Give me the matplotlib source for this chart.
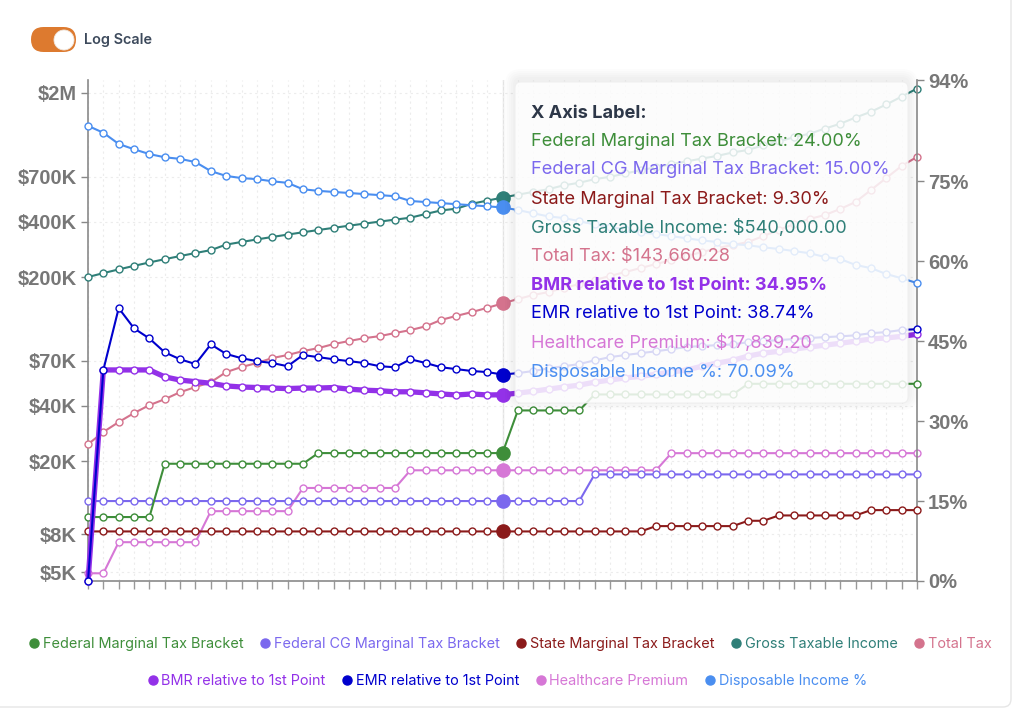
import matplotlib
matplotlib.use('Agg')
import matplotlib.pyplot as plt
from matplotlib.patches import FancyBboxPatch, Circle
from matplotlib.lines import Line2D
from matplotlib.ticker import FuncFormatter

plt.rcParams['font.family'] = ['Inter', 'DejaVu Sans']

# ---- data ----
fed_marginal = [12, 12, 12, 12, 12, 22, 22, 22, 22, 22, 22, 22, 22, 22, 22,
                24, 24, 24, 24, 24, 24, 24, 24, 24, 24, 24, 24, 24,
                32, 32, 32, 32, 32, 35, 35, 35, 35, 35, 35, 35, 35, 35, 35,
                37, 37, 37, 37, 37, 37, 37, 37, 37, 37, 37, 37]
fed_cg = [15, 15, 15, 15, 15, 15, 15, 15, 15, 15, 15, 15, 15, 15, 15, 15, 15,
          15, 15, 15, 15, 15, 15, 15, 15, 15, 15, 15, 15, 15, 15, 15, 15,
          20, 20, 20, 20, 20, 20, 20, 20, 20, 20, 20, 20, 20, 20, 20, 20, 20,
          20, 20, 20, 20, 20]
state_marginal = [9.3, 9.3, 9.3, 9.3, 9.3, 9.3, 9.3, 9.3, 9.3, 9.3, 9.3, 9.3,
                  9.3, 9.3, 9.3, 9.3, 9.3, 9.3, 9.3, 9.3, 9.3, 9.3, 9.3, 9.3,
                  9.3, 9.3, 9.3, 9.3, 9.3, 9.3, 9.3, 9.3, 9.3, 9.3, 9.3, 9.3,
                  9.3, 10.3, 10.3, 10.3, 10.3, 10.3, 10.3, 11.3, 11.3,
                  12.3, 12.3, 12.3, 12.3, 12.3, 12.3, 13.3, 13.3, 13.3, 13.3]
gross_income = [200000, 210000, 220000, 230000, 240000, 250000, 260000, 270000,
                280000, 300000, 310000, 320000, 330000, 340000, 350000, 360000,
                370000, 380000, 390000, 400000, 410000, 420000, 440000, 460000,
                470000, 500000, 520000, 540000, 560000, 580000, 600000, 630000,
                650000, 680000, 700000, 730000, 760000, 790000, 820000, 850000,
                880000, 910000, 950000, 980000, 1040000, 1090000, 1150000,
                1200000, 1280000, 1360000, 1470000, 1580000, 1730000, 1910000,
                2110000]
total_tax = [24700, 28800, 32600, 36500, 40300, 43400, 47400, 50500, 53700,
             60900, 64900, 68200, 72600, 75400, 79200, 82200, 86500, 89800,
             93100, 95500, 99300, 103000, 108000, 117000, 123000, 129000,
             136000, 143660.28, 151900, 159700, 165800, 174300, 183200,
             192600, 202500, 212900, 223800, 235300, 247400, 260100, 273500,
             287500, 298500, 309900, 334100, 360100, 388200, 413200, 434500,
             468400, 511300, 593900, 690200, 802400, 898000]
bmr = [0, 39.6, 39.6, 39.6, 39.6, 38.3, 37.7, 37.4, 37.1, 36.6, 36.4, 36.3,
       36.2, 36.1, 36.2, 36.2, 36.3, 36.0, 35.8, 35.7, 35.5, 35.5, 35.3, 35.1,
       34.9, 35.1, 34.9, 34.95, 35.25, 35.6, 36.0, 36.4, 36.75, 37.3, 37.7,
       38.1, 38.4, 38.8, 39.2, 39.6, 40.3, 40.9, 41.4, 42.2, 42.75, 43.1, 43.5,
       43.9, 44.25, 44.6, 45.0, 45.4, 45.6, 45.9, 46.3]
emr = [0, 39.6, 51.2, 47.4, 45.5, 42.9, 41.6, 40.7, 44.4, 42.6, 41.8, 41.25,
       40.9, 40.3, 42.4, 42.0, 41.6, 41.25, 40.9, 40.3, 40.1, 41.6, 40.9, 40.1,
       39.75, 39.4, 39.2, 38.74, 39.0, 39.4, 39.9, 40.3, 40.7, 41.4, 42.0, 42.4,
       42.75, 43.1, 43.5, 43.9, 44.1, 44.25, 44.4, 44.8, 45.0, 45.2, 45.4, 45.6,
       45.75, 45.9, 46.1, 46.5, 46.7, 47.1, 47.25]
healthcare = [4920, 4920, 7260, 7260, 7260, 7260, 7260, 7260, 10700, 10700,
              10700, 10700, 10700, 10700, 14300, 14300, 14300, 14300, 14300,
              14300, 14300, 17839.2, 17839.2, 17839.2, 17839.2, 17839.2,
              17839.2, 17839.2, 17839.2, 17839.2, 17839.2, 17839.2, 17839.2,
              17839.2, 17839.2, 17839.2, 17839.2, 17839.2, 22100, 22100,
              22100, 22100, 22100, 22100, 22100, 22100, 22100, 22100, 22100,
              22100, 22100, 22100, 22100, 22100, 22100]
disposable = [85.4, 84.1, 82.0, 81.0, 80.1, 79.5, 79.2, 78.6, 76.9, 76.0, 75.6,
              75.4, 75.0, 74.7, 73.5, 73.2, 73.0, 72.8, 72.6, 72.4, 72.2, 71.3,
              71.1, 70.9, 70.7, 70.5, 70.3, 70.09, 69.6, 69.0, 68.4, 68.1,
              67.5, 66.9, 66.4, 66.0, 65.4, 65.1, 64.7, 64.3, 63.9, 63.6, 63.2,
              63.0, 62.6, 62.3, 61.9, 61.5, 60.8, 60.4, 59.3, 58.7, 57.6, 56.8,
              55.9]

hover = 27
left_ticks = [5000, 8000, 20000, 40000, 70000, 200000, 400000, 700000, 2000000]
right_ticks = [0, 15, 30, 45, 60, 75, 94]

names = ['Federal Marginal Tax Bracket', 'Federal CG Marginal Tax Bracket',
         'State Marginal Tax Bracket', 'Gross Taxable Income', 'Total Tax',
         'BMR relative to 1st Point', 'EMR relative to 1st Point',
         'Healthcare Premium', 'Disposable Income %']
colors = ['#3e8e3a', '#7b68ee', '#8b1a1a', '#2f7f78', '#d4738d',
          '#9331e8', '#0000cd', '#d677d6', '#4a8ef0']

xs = list(range(len(gross_income)))

fig = plt.figure(figsize=(10.24, 7.09), dpi=100)
ax = fig.add_axes([88 / 1024, 1 - 581 / 709, (917 - 88) / 1024, (581 - 80) / 709])
ax2 = ax.twinx()


def draw(axis, ys, color, lw=1.5, z=3):
    axis.plot(xs, ys, color=color, lw=lw, marker='o', ms=5, mfc='white',
              mec=color, mew=1.0, clip_on=False, zorder=z)
    axis.plot([xs[hover]], [ys[hover]], 'o', color=color, ms=9.5,
              clip_on=False, zorder=z + 1)


# dollar series (left, log)
draw(ax, gross_income, colors[3])
draw(ax, total_tax, colors[4])
draw(ax, healthcare, colors[7])
# percentage series (right)
draw(ax2, disposable, colors[8])
draw(ax2, state_marginal, colors[2])
draw(ax2, fed_cg, colors[1])
draw(ax2, fed_marginal, colors[0])
draw(ax2, bmr, colors[5], lw=3.8)
draw(ax2, emr, colors[6])

ax.set_yscale('log')
ax.set_ylim(4468, 2.35e6)
ax.set_xlim(0, 54)
ax.set_yticks(left_ticks)
ax.yaxis.set_minor_locator(plt.NullLocator())
ax.yaxis.set_major_formatter(FuncFormatter(
    lambda v, p: '$%gM' % (v / 1e6) if v >= 1e6 else '$%gK' % (v / 1e3)))
ax.set_xticks(xs)
ax.set_xticklabels([])
ax2.set_ylim(0, 94)
ax2.set_yticks(right_ticks)
ax2.yaxis.set_major_formatter(FuncFormatter(lambda v, p: '%g%%' % v))

ax.grid(True, color='#ececec', linestyle=(0, (2, 3)), lw=0.8)
ax.axvline(hover, color='#e2e2e2', lw=1, zorder=1)

tick_font = {'family': 'Liberation Sans', 'weight': 'bold', 'size': 14.5}
for lab in ax.get_yticklabels() + ax2.get_yticklabels():
    lab.set_fontproperties(matplotlib.font_manager.FontProperties(**tick_font))
    lab.set_color('#777777')
ax.tick_params(axis='y', length=5, width=1, color='#888888', pad=3)
ax.tick_params(axis='x', length=6, width=1, color='#999999')
ax2.tick_params(axis='y', length=5, width=1, color='#888888', pad=3)

for a in (ax, ax2):
    a.spines['top'].set_visible(False)
    for s in a.spines.values():
        s.set_color('#8a8a8a')
        s.set_linewidth(1.2)
ax.spines['right'].set_visible(False)
ax2.spines['left'].set_visible(False)
ax2.spines['bottom'].set_visible(False)

T = fig.dpi_scale_trans
H = 7.09

# tooltip with soft shadow
for i in range(5):
    e = 0.02 * (i + 1)
    fig.add_artist(FancyBboxPatch((5.15 - e, H - 4.03 - e + 0.03), 3.93 + 2 * e,
                                  3.21 + 2 * e,
                                  boxstyle='round,pad=0,rounding_size=%f' % (0.06 + e),
                                  transform=T, facecolor='black', alpha=0.012,
                                  edgecolor='none', zorder=9))
fig.add_artist(FancyBboxPatch((5.15, H - 4.03), 3.93, 3.21,
                              boxstyle='round,pad=0,rounding_size=0.06',
                              transform=T, facecolor='white', alpha=0.85,
                              edgecolor='#eeeeee', lw=0.8, zorder=10))

tip_rows = [
    ('X Axis Label:', '#2d3748', 'bold'),
    ('%s: %.2f%%' % (names[0], fed_marginal[hover]), colors[0], 'normal'),
    ('%s: %.2f%%' % (names[1], fed_cg[hover]), colors[1], 'normal'),
    ('%s: %.2f%%' % (names[2], state_marginal[hover]), colors[2], 'normal'),
    ('%s: \\$%s' % (names[3], format(gross_income[hover], ',.2f')), colors[3], 'normal'),
    ('%s: \\$%s' % (names[4], format(total_tax[hover], ',.2f')), colors[4], 'normal'),
    ('%s: %.2f%%' % (names[5], bmr[hover]), colors[5], 'bold'),
    ('%s: %.2f%%' % (names[6], emr[hover]), colors[6], 'normal'),
    ('%s: \\$%s' % (names[7], format(healthcare[hover], ',.2f')), colors[7], 'normal'),
    ('%s: %.2f%%' % (names[8], disposable[hover]), colors[8], 'normal'),
]
row_y = [113, 142, 170, 199, 228, 256, 285, 314, 343, 372]
for (txt, c, w), yy in zip(tip_rows, row_y):
    fig.text(5.31, H - yy / 100, txt, transform=T, color=c, fontsize=13.1,
             fontweight=w, va='center', ha='left', zorder=11)

# legend in two centred rows
def legend_row(idx, ypx, xc):
    hs = [Line2D([], [], marker='o', ls='', color=colors[i], ms=6.5) for i in idx]
    lg = fig.legend(hs, [names[i] for i in idx], loc='center',
                    bbox_to_anchor=(xc / 1024, 1 - ypx / 709), ncol=len(idx),
                    frameon=False, fontsize=10.4, handlelength=0.5,
                    handletextpad=0.35, columnspacing=1.25, borderaxespad=0)
    for t, i in zip(lg.get_texts(), idx):
        t.set_color(colors[i])


legend_row([0, 1, 2, 3, 4], 644, 511)
legend_row([5, 6, 7, 8], 681, 508)

# log scale toggle
fig.add_artist(FancyBboxPatch((0.31, H - 0.52), 0.45, 0.25,
                              boxstyle='round,pad=0,rounding_size=0.125',
                              transform=T, facecolor='#dd7a2f', edgecolor='none'))
fig.add_artist(Circle((0.64, H - 0.40), 0.10, transform=T, facecolor='white',
                      edgecolor='#f0e6dd', lw=0.6))
fig.text(0.84, H - 0.40, 'Log Scale', transform=T, fontsize=10.4,
         fontweight='semibold', color='#3d4a5c', va='center', ha='left')

# card outline
fig.add_artist(FancyBboxPatch((-0.2, H - 7.07), 10.31, 7.3,
                              boxstyle='round,pad=0,rounding_size=0.08',
                              transform=T, facecolor='none', edgecolor='#e6e6e6',
                              lw=1))

fig.savefig('out.png', dpi=100)
